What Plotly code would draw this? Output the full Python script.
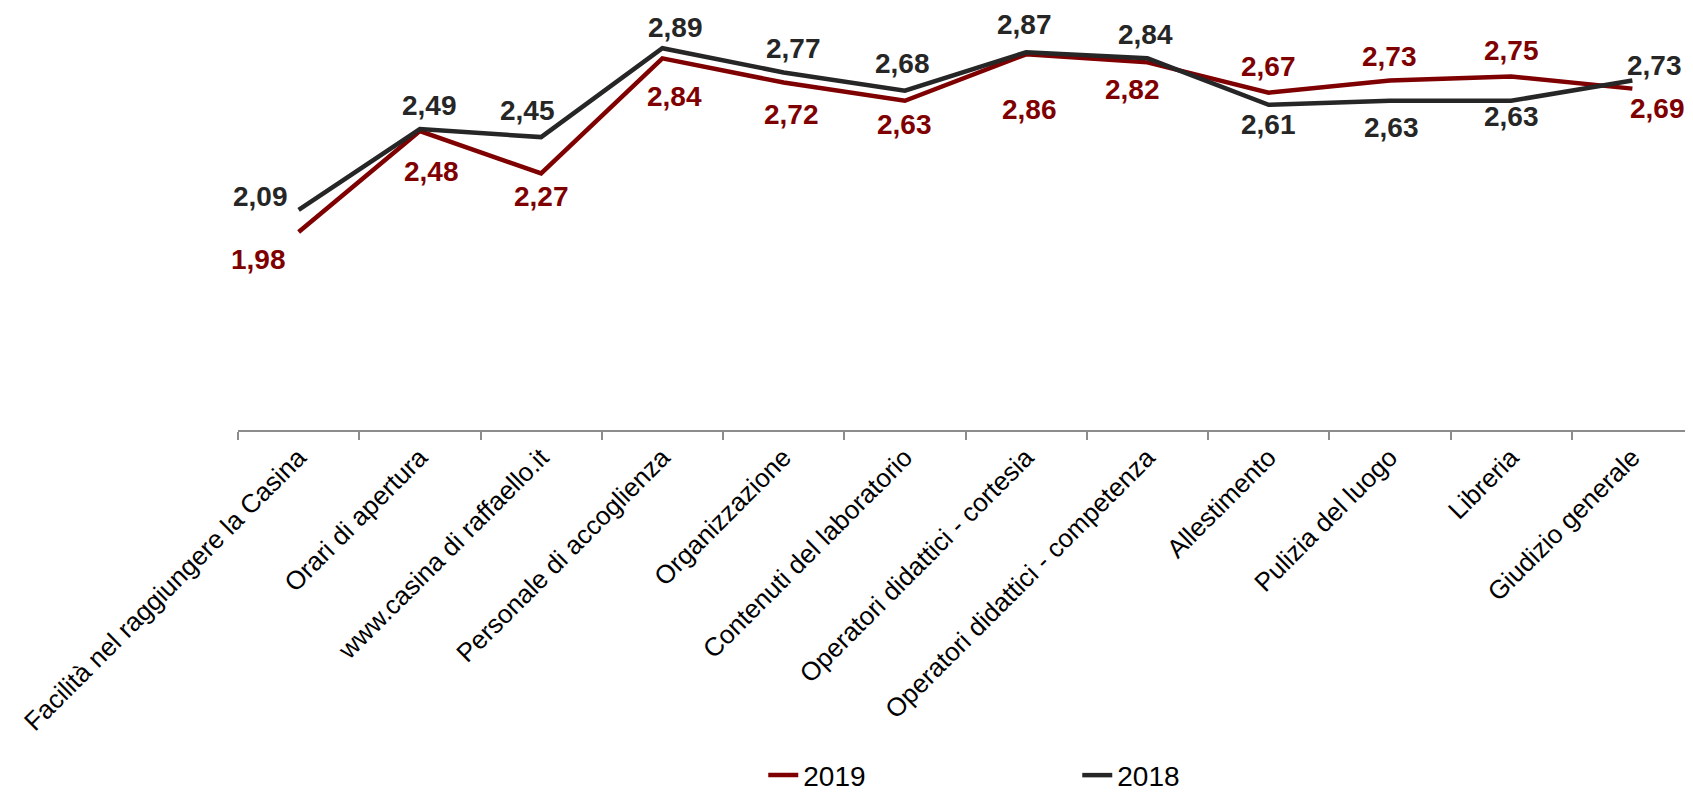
import plotly.graph_objects as go

categories = [
    "Facilità nel raggiungere la Casina",
    "Orari di apertura",
    "www.casina di raffaello.it",
    "Personale di accoglienza",
    "Organizzazione",
    "Contenuti del laboratorio",
    "Operatori didattici - cortesia",
    "Operatori didattici - competenza",
    "Allestimento",
    "Pulizia del luogo",
    "Libreria",
    "Giudizio generale",
]
values_2019 = [1.98, 2.48, 2.27, 2.84, 2.72, 2.63, 2.86, 2.82, 2.67, 2.73, 2.75, 2.69]
values_2018 = [2.09, 2.49, 2.45, 2.89, 2.77, 2.68, 2.87, 2.84, 2.61, 2.63, 2.63, 2.73]

# label offsets (pixels) relative to the data point: style only
off_2019 = [(-40, -27), (12, -40), (0, -23), (12, -38), (8, -32), (0, -24),
            (3, -55), (-15, -27), (0, 26), (0, 24), (0, 26), (25, -20)]
off_2018 = [(-38, 13), (10, 24), (-14, 27), (13, 21), (10, 24), (-2, 27),
            (-2, 28), (-2, 24), (0, -20), (2, -27), (0, -16), (22, 15)]

RED = "#7f0000"
DARK = "#262626"
FONT = "Liberation Sans, Arial, sans-serif"

fig = go.Figure()
fig.add_trace(go.Scatter(x=categories, y=values_2019, mode="lines", name="2019",
                         line=dict(color=RED, width=4.5)))
fig.add_trace(go.Scatter(x=categories, y=values_2018, mode="lines", name="2018",
                         line=dict(color=DARK, width=4.5)))

annotations = []
for vals, offs, col in ((values_2019, off_2019, RED), (values_2018, off_2018, DARK)):
    for c, v, (dx, dy) in zip(categories, vals, offs):
        annotations.append(dict(
            x=c, y=v, xref="x", yref="y",
            text=f"{v:.2f}".replace(".", ","),
            showarrow=False, xshift=dx, yshift=dy,
            font=dict(family=FONT, size=28, color=col, weight="bold"),
        ))

# the page body adds an 8px offset, so the figure is sized to fit the window
fig.update_layout(
    width=1685, height=786,
    margin=dict(l=229.5, r=0, t=17.5, b=364, autoexpand=False),
    paper_bgcolor="white", plot_bgcolor="white",
    font=dict(family=FONT, color="black"),
    annotations=annotations,
    showlegend=True,
    legend=dict(orientation="h", x=0.361, y=-0.855, xanchor="left", yanchor="middle",
                font=dict(size=28, family=FONT, color="black"),
                bgcolor="rgba(0,0,0,0)",
                entrywidth=269, entrywidthmode="pixels", traceorder="normal"),
    xaxis=dict(type="category", range=[-0.5, 11.5], tickson="boundaries",
               ticks="outside", ticklen=8, tickwidth=1.5, tickcolor="#8c8c8c",
               showline=True, linecolor="#8c8c8c", linewidth=2,
               showgrid=False, tickangle=-45, automargin=False,
               tickfont=dict(family=FONT, size=26, color="black")),
    yaxis=dict(range=[1, 3], visible=False, showgrid=False, zeroline=False,
               automargin=False),
)

fig.write_html("out.html")
